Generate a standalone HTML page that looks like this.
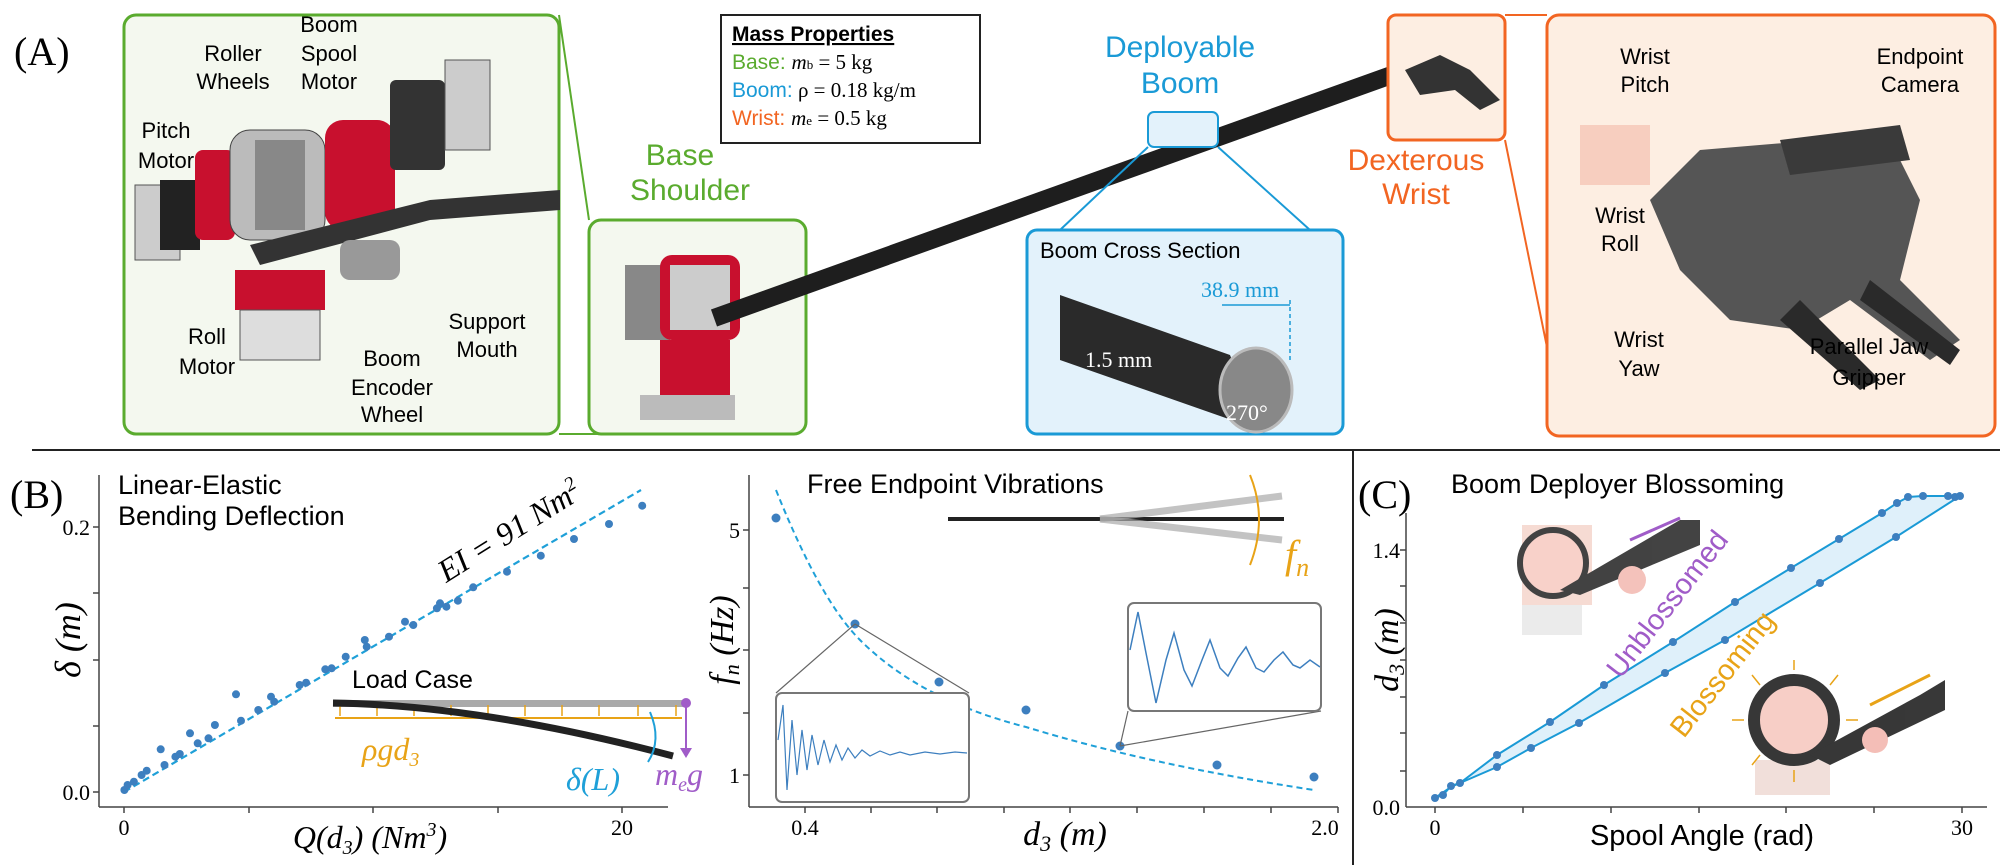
<!DOCTYPE html>
<html><head><meta charset="utf-8"><style>
html,body{margin:0;padding:0;background:#fff;}
svg{display:block;}
.s{font-family:"Liberation Sans",sans-serif;}
.r{font-family:"Liberation Serif",serif;}
</style></head><body>
<svg width="2000" height="865" viewBox="0 0 2000 865" xmlns="http://www.w3.org/2000/svg">
<line x1="32" y1="450" x2="2000" y2="450" stroke="#222" stroke-width="2"/>
<line x1="1353" y1="450" x2="1353" y2="865" stroke="#222" stroke-width="2"/>

<text x="14" y="65" class="r" font-size="40">(A)</text>
<rect x="124" y="15" width="435" height="419" rx="12" fill="#f4f8ef" stroke="#5aab2e" stroke-width="3"/>
<rect x="589" y="220" width="217" height="214" rx="12" fill="#f4f8ef" stroke="#5aab2e" stroke-width="3"/>
<line x1="559" y1="15" x2="589" y2="220" stroke="#5aab2e" stroke-width="2"/>
<line x1="559" y1="434" x2="600" y2="434" stroke="#5aab2e" stroke-width="2"/>
<g>
<rect x="135" y="185" width="45" height="75" fill="#ccc" stroke="#555"/>
<rect x="160" y="180" width="40" height="70" fill="#222"/>
<rect x="195" y="150" width="40" height="90" rx="8" fill="#c8102e"/>
<rect x="230" y="130" width="95" height="110" rx="20" fill="#bbb" stroke="#444"/>
<rect x="255" y="140" width="50" height="90" fill="#888"/>
<rect x="325" y="120" width="70" height="110" rx="18" fill="#c8102e"/>
<rect x="390" y="80" width="55" height="90" rx="6" fill="#333"/>
<rect x="445" y="60" width="45" height="90" fill="#ccc" stroke="#555"/>
<path d="M250 245 L430 200 L560 190 L560 210 L430 220 L260 265Z" fill="#333"/>
<rect x="235" y="270" width="90" height="40" fill="#c8102e"/>
<rect x="240" y="310" width="80" height="50" fill="#ddd" stroke="#555"/>
<rect x="340" y="240" width="60" height="40" rx="10" fill="#999"/>
</g>
<text class="s" font-size="22" text-anchor="middle"><tspan x="233" y="61">Roller</tspan><tspan x="233" y="89">Wheels</tspan></text>
<text class="s" font-size="22" text-anchor="middle"><tspan x="329" y="32">Boom</tspan><tspan x="329" y="61">Spool</tspan><tspan x="329" y="89">Motor</tspan></text>
<text class="s" font-size="22" text-anchor="middle"><tspan x="166" y="138">Pitch</tspan><tspan x="166" y="168">Motor</tspan></text>
<text class="s" font-size="22" text-anchor="middle"><tspan x="487" y="329">Support</tspan><tspan x="487" y="357">Mouth</tspan></text>
<text class="s" font-size="22" text-anchor="middle"><tspan x="207" y="344">Roll</tspan><tspan x="207" y="374">Motor</tspan></text>
<text class="s" font-size="22" text-anchor="middle"><tspan x="392" y="366">Boom</tspan><tspan x="392" y="395">Encoder</tspan><tspan x="392" y="422">Wheel</tspan></text>
<rect x="625" y="265" width="45" height="75" fill="#888"/>
<rect x="660" y="255" width="80" height="85" rx="12" fill="#c8102e"/>
<rect x="670" y="265" width="60" height="65" fill="#ccc"/>
<rect x="660" y="340" width="70" height="55" fill="#c8102e"/>
<rect x="640" y="395" width="95" height="25" fill="#bbb"/>
<text x="680" y="165" class="s" font-size="30" fill="#5aab2e" text-anchor="middle">Base</text>
<text x="690" y="200" class="s" font-size="30" fill="#5aab2e" text-anchor="middle">Shoulder</text>
<line x1="714" y1="318" x2="1400" y2="72" stroke="#1e1e1e" stroke-width="18"/>
<rect x="721" y="15" width="259" height="128" fill="#fff" stroke="#222" stroke-width="2"/>
<text x="732" y="41" class="s" font-size="21" font-weight="bold" text-decoration="underline">Mass Properties</text>
<text x="732" y="69" class="s" font-size="21"><tspan fill="#5aab2e">Base:</tspan> <tspan class="r" font-style="italic">m</tspan><tspan class="r" font-size="13">b</tspan><tspan class="r"> = 5 kg</tspan></text>
<text x="732" y="97" class="s" font-size="21"><tspan fill="#1a9ad6">Boom:</tspan><tspan class="r"> ρ = 0.18 kg/m</tspan></text>
<text x="732" y="125" class="s" font-size="21"><tspan fill="#f26522">Wrist:</tspan> <tspan class="r" font-style="italic">m</tspan><tspan class="r" font-size="13">e</tspan><tspan class="r"> = 0.5 kg</tspan></text>
<text x="1180" y="57" class="s" font-size="30" fill="#1a9ad6" text-anchor="middle">Deployable</text>
<text x="1180" y="93" class="s" font-size="30" fill="#1a9ad6" text-anchor="middle">Boom</text>
<rect x="1148" y="112" width="70" height="35" rx="6" fill="#e3f2fb" stroke="#1a9ad6" stroke-width="2"/>
<line x1="1148" y1="147" x2="1060" y2="230" stroke="#1a9ad6" stroke-width="2"/>
<line x1="1218" y1="147" x2="1310" y2="230" stroke="#1a9ad6" stroke-width="2"/>
<rect x="1027" y="230" width="316" height="204" rx="10" fill="#e3f2fb" stroke="#1a9ad6" stroke-width="3"/>
<text x="1040" y="258" class="s" font-size="22">Boom Cross Section</text>
<path d="M1060 295 L1230 355 L1260 430 L1060 360Z" fill="#2a2a2a"/>
<ellipse cx="1256" cy="390" rx="36" ry="42" fill="#888" stroke="#bbb" stroke-width="3"/>
<text x="1201" y="297" class="r" font-size="22" fill="#1a9ad6">38.9 mm</text>
<line x1="1222" y1="305" x2="1290" y2="305" stroke="#1a9ad6" stroke-width="1.5"/>
<line x1="1290" y1="300" x2="1290" y2="360" stroke="#1a9ad6" stroke-width="1.5" stroke-dasharray="4,3"/>
<text x="1085" y="367" class="r" font-size="22" fill="#fff">1.5 mm</text>
<text x="1226" y="420" class="r" font-size="22" fill="#fff">270°</text>
<rect x="1388" y="15" width="117" height="125" rx="8" fill="#fdeee2" stroke="#f26522" stroke-width="3"/>
<line x1="1505" y1="15" x2="1547" y2="15" stroke="#f26522" stroke-width="2"/>
<line x1="1505" y1="140" x2="1565" y2="436" stroke="#f26522" stroke-width="2"/>
<path d="M1405 70 L1440 55 L1470 70 L1500 100 L1480 110 L1455 90 L1420 95Z" fill="#333"/>
<text x="1416" y="170" class="s" font-size="30" fill="#f26522" text-anchor="middle">Dexterous</text>
<text x="1416" y="204" class="s" font-size="30" fill="#f26522" text-anchor="middle">Wrist</text>
<rect x="1547" y="15" width="448" height="421" rx="12" fill="#fdeee2" stroke="#f26522" stroke-width="3"/>
<rect x="1580" y="125" width="70" height="60" fill="#f3c0b0" opacity="0.7"/>
<path d="M1650 200 L1700 150 L1820 140 L1900 160 L1920 200 L1900 280 L1960 340 L1930 360 L1850 300 L1800 330 L1730 320 L1680 270Z" fill="#555"/>
<path d="M1780 140 L1900 125 L1910 160 L1790 175Z" fill="#3a3a3a"/>
<path d="M1800 300 L1880 380 L1860 390 L1780 320Z" fill="#2a2a2a"/>
<path d="M1870 280 L1960 350 L1950 365 L1860 300Z" fill="#2a2a2a"/>
<text class="s" font-size="22" text-anchor="middle"><tspan x="1645" y="64">Wrist</tspan><tspan x="1645" y="92">Pitch</tspan></text>
<text class="s" font-size="22" text-anchor="middle"><tspan x="1920" y="64">Endpoint</tspan><tspan x="1920" y="92">Camera</tspan></text>
<text class="s" font-size="22" text-anchor="middle"><tspan x="1620" y="223">Wrist</tspan><tspan x="1620" y="251">Roll</tspan></text>
<text class="s" font-size="22" text-anchor="middle"><tspan x="1639" y="347">Wrist</tspan><tspan x="1639" y="376">Yaw</tspan></text>
<text class="s" font-size="22" text-anchor="middle"><tspan x="1869" y="354">Parallel Jaw</tspan><tspan x="1869" y="385">Gripper</tspan></text>

<text x="10" y="508" class="r" font-size="40">(B)</text>
<g stroke="#444" stroke-width="1.5">
<line x1="99" y1="475" x2="99" y2="807"/><line x1="99" y1="807" x2="668" y2="807"/>
<line x1="124" y1="807" x2="124" y2="813"/><line x1="249" y1="807" x2="249" y2="813"/><line x1="373" y1="807" x2="373" y2="813"/><line x1="498" y1="807" x2="498" y2="813"/><line x1="622" y1="807" x2="622" y2="813"/>
<line x1="93" y1="792" x2="99" y2="792"/><line x1="93" y1="726" x2="99" y2="726"/><line x1="93" y1="660" x2="99" y2="660"/><line x1="93" y1="593" x2="99" y2="593"/><line x1="93" y1="527" x2="99" y2="527"/>
</g>
<text x="90" y="800" class="r" font-size="22" text-anchor="end">0.0</text>
<text x="90" y="535" class="r" font-size="22" text-anchor="end">0.2</text>
<text x="124" y="835" class="r" font-size="22" text-anchor="middle">0</text>
<text x="622" y="835" class="r" font-size="22" text-anchor="middle">20</text>
<text x="118" y="494" class="s" font-size="27">Linear-Elastic</text>
<text x="118" y="525" class="s" font-size="27">Bending Deflection</text>
<text transform="translate(80,640) rotate(-90)" class="r" font-size="36" font-style="italic" text-anchor="middle">δ (m)</text>
<text x="370" y="848" class="r" font-size="32" font-style="italic" text-anchor="middle">Q(d<tspan font-size="20" dy="6">3</tspan><tspan dy="-6">)  (Nm</tspan><tspan font-size="20" dy="-12">3</tspan><tspan dy="12">)</tspan></text>
<line x1="124" y1="792" x2="641" y2="490" stroke="#1fa0d8" stroke-width="2.2" stroke-dasharray="7,4"/>
<text transform="translate(515,540) rotate(-32)" class="r" font-size="32" font-style="italic" text-anchor="middle">EI = 91 Nm<tspan font-size="20" dy="-12">2</tspan></text>
<g fill="#3d7fbf">
<circle cx="124.4" cy="790" r="4"/><circle cx="127.6" cy="785" r="4"/><circle cx="133.9" cy="781.7" r="4"/><circle cx="141.6" cy="775" r="4"/><circle cx="146.7" cy="770.7" r="4"/><circle cx="160.7" cy="749.3" r="4"/><circle cx="164.5" cy="765" r="4"/><circle cx="175.4" cy="756.7" r="4"/><circle cx="179.8" cy="754" r="4"/><circle cx="190" cy="733.3" r="4"/><circle cx="197.7" cy="743.3" r="4"/><circle cx="208.5" cy="738.3" r="4"/><circle cx="214.9" cy="725" r="4"/><circle cx="236" cy="694.3" r="4"/><circle cx="241" cy="720.7" r="4"/><circle cx="258.3" cy="710" r="4"/><circle cx="271" cy="696.7" r="4"/><circle cx="274.2" cy="701.7" r="4"/><circle cx="299.7" cy="685" r="4"/><circle cx="306.1" cy="682.7" r="4"/><circle cx="325.3" cy="669.3" r="4"/><circle cx="331.6" cy="668.3" r="4"/><circle cx="345.7" cy="656.7" r="4"/><circle cx="364.8" cy="640" r="4"/><circle cx="366.7" cy="646.7" r="4"/><circle cx="389" cy="636.7" r="4"/><circle cx="405" cy="621.7" r="4"/><circle cx="413.3" cy="625" r="4"/><circle cx="436.9" cy="608.3" r="4"/><circle cx="440" cy="603.3" r="4"/><circle cx="446.4" cy="606.7" r="4"/><circle cx="457.9" cy="600.7" r="4"/><circle cx="473.2" cy="587.3" r="4"/><circle cx="507" cy="571.7" r="4"/><circle cx="540.8" cy="555.7" r="4"/><circle cx="574" cy="539" r="4"/><circle cx="609" cy="524" r="4"/><circle cx="642.2" cy="505.7" r="4"/>
</g>
<text x="352" y="688" class="s" font-size="25">Load Case</text>
<rect x="333" y="700" width="353" height="7" fill="#aaa"/>
<line x1="335" y1="718" x2="682" y2="718" stroke="#e8a317" stroke-width="2"/>
<g stroke="#e8a317" stroke-width="1.5"><line x1="340" y1="705" x2="340" y2="716"/><line x1="377" y1="705" x2="377" y2="716"/><line x1="414" y1="705" x2="414" y2="716"/><line x1="451" y1="705" x2="451" y2="716"/><line x1="488" y1="705" x2="488" y2="716"/><line x1="525" y1="705" x2="525" y2="716"/><line x1="562" y1="705" x2="562" y2="716"/><line x1="599" y1="705" x2="599" y2="716"/><line x1="638" y1="705" x2="638" y2="716"/><line x1="676" y1="705" x2="676" y2="716"/></g>
<path d="M333 703 Q480 705 673 756" stroke="#222" stroke-width="7" fill="none"/>
<circle cx="686" cy="703" r="5" fill="#a05cc8"/>
<line x1="686" y1="703" x2="686" y2="752" stroke="#a05cc8" stroke-width="2"/>
<path d="M680 748 L686 758 L692 748Z" fill="#a05cc8"/>
<path d="M650 712 Q662 740 648 762" stroke="#1fa0d8" stroke-width="2" fill="none"/>
<text x="362" y="760" class="r" font-size="32" font-style="italic" fill="#e8a317">ρgd<tspan font-size="20" dy="6">3</tspan></text>
<text x="566" y="790" class="r" font-size="32" font-style="italic" fill="#1fa0d8">δ(L)</text>
<text x="655" y="785" class="r" font-size="32" font-style="italic" fill="#a05cc8">m<tspan font-size="20" dy="6">e</tspan><tspan dy="-6">g</tspan></text>

<g stroke="#444" stroke-width="1.5">
<line x1="749" y1="475" x2="749" y2="807"/><line x1="749" y1="807" x2="1338" y2="807"/>
<line x1="805" y1="807" x2="805" y2="813"/><line x1="871" y1="807" x2="871" y2="813"/><line x1="937" y1="807" x2="937" y2="813"/><line x1="1004" y1="807" x2="1004" y2="813"/><line x1="1070" y1="807" x2="1070" y2="813"/><line x1="1137" y1="807" x2="1137" y2="813"/><line x1="1204" y1="807" x2="1204" y2="813"/><line x1="1271" y1="807" x2="1271" y2="813"/><line x1="1338" y1="807" x2="1338" y2="813"/>
<line x1="743" y1="530" x2="749" y2="530"/><line x1="743" y1="588" x2="749" y2="588"/><line x1="743" y1="650" x2="749" y2="650"/><line x1="743" y1="713" x2="749" y2="713"/><line x1="743" y1="775" x2="749" y2="775"/>
</g>
<text x="740" y="538" class="r" font-size="22" text-anchor="end">5</text>
<text x="740" y="783" class="r" font-size="22" text-anchor="end">1</text>
<text x="805" y="835" class="r" font-size="22" text-anchor="middle">0.4</text>
<text x="1325" y="835" class="r" font-size="22" text-anchor="middle">2.0</text>
<text x="807" y="493" class="s" font-size="27">Free Endpoint Vibrations</text>
<text transform="translate(733,640) rotate(-90)" class="r" font-size="34" font-style="italic" text-anchor="middle">f<tspan font-size="22" dy="6">n</tspan><tspan dy="-6"> (Hz)</tspan></text>
<text x="1065" y="845" class="r" font-size="34" font-style="italic" text-anchor="middle">d<tspan font-size="22" dy="6">3</tspan><tspan dy="-6"> (m)</tspan></text>
<path d="M776 490 Q820 600 860 640 Q920 700 1026 727 Q1150 765 1314 790" stroke="#1fa0d8" stroke-width="2" fill="none" stroke-dasharray="6,4"/>
<g fill="#3d7fbf"><circle cx="776" cy="518" r="4.5"/><circle cx="855" cy="624" r="4.5"/><circle cx="939" cy="682" r="4.5"/><circle cx="1026" cy="710" r="4.5"/><circle cx="1120" cy="746" r="4.5"/><circle cx="1217" cy="765" r="4.5"/><circle cx="1314" cy="777" r="4.5"/></g>
<line x1="776" y1="693" x2="855" y2="624" stroke="#666" stroke-width="1.2"/>
<line x1="969" y1="693" x2="855" y2="624" stroke="#666" stroke-width="1.2"/>
<rect x="776" y="693" width="193" height="109" rx="6" fill="#fff" stroke="#777" stroke-width="2"/>
<path d="M778 740 L783 705 L787 790 L792 720 L797 775 L802 730 L807 770 L812 735 L818 765 L824 740 L830 762 L836 745 L842 760 L848 748 L855 758 L862 750 L870 756 L880 751 L890 755 L900 752 L910 755 L925 752 L940 754 L955 752 L967 753" stroke="#3d7fbf" stroke-width="1.2" fill="none"/>
<line x1="1128" y1="711" x2="1120" y2="746" stroke="#666" stroke-width="1.2"/>
<line x1="1321" y1="711" x2="1120" y2="746" stroke="#666" stroke-width="1.2"/>
<rect x="1128" y="603" width="193" height="108" rx="6" fill="#fff" stroke="#777" stroke-width="2"/>
<path d="M1130 650 L1138 612 L1146 653 L1156 703 L1166 660 L1174 633 L1184 670 L1192 686 L1202 660 L1210 640 L1220 668 L1228 676 L1238 658 L1246 647 L1256 668 L1264 672 L1274 660 L1283 652 L1293 665 L1300 668 L1310 660 L1320 667" stroke="#3d7fbf" stroke-width="1.5" fill="none"/>
<line x1="948" y1="519" x2="1284" y2="519" stroke="#222" stroke-width="4"/>
<path d="M1100 519 L1282 496" stroke="#aaa" stroke-width="7" opacity="0.7"/>
<path d="M1100 519 L1282 540" stroke="#aaa" stroke-width="7" opacity="0.7"/>
<path d="M1250 475 Q1268 519 1250 565" stroke="#e8a317" stroke-width="2" fill="none"/>
<text x="1285" y="568" class="r" font-size="40" font-style="italic" fill="#e8a317">f<tspan font-size="26" dy="8">n</tspan></text>

<text x="1358" y="508" class="r" font-size="40">(C)</text>
<g stroke="#444" stroke-width="1.5">
<line x1="1406" y1="513" x2="1406" y2="807"/><line x1="1406" y1="807" x2="1987" y2="807"/>
<line x1="1435" y1="807" x2="1435" y2="813"/><line x1="1523" y1="807" x2="1523" y2="813"/><line x1="1611" y1="807" x2="1611" y2="813"/><line x1="1699" y1="807" x2="1699" y2="813"/><line x1="1786" y1="807" x2="1786" y2="813"/><line x1="1874" y1="807" x2="1874" y2="813"/><line x1="1962" y1="807" x2="1962" y2="813"/>
<line x1="1400" y1="550" x2="1406" y2="550"/><line x1="1400" y1="586" x2="1406" y2="586"/><line x1="1400" y1="623" x2="1406" y2="623"/><line x1="1400" y1="660" x2="1406" y2="660"/><line x1="1400" y1="697" x2="1406" y2="697"/><line x1="1400" y1="733" x2="1406" y2="733"/><line x1="1400" y1="771" x2="1406" y2="771"/>
</g>
<text x="1400" y="815" class="r" font-size="22" text-anchor="end">0.0</text>
<text x="1400" y="558" class="r" font-size="22" text-anchor="end">1.4</text>
<text x="1435" y="835" class="r" font-size="22" text-anchor="middle">0</text>
<text x="1962" y="835" class="r" font-size="22" text-anchor="middle">30</text>
<text x="1451" y="493" class="s" font-size="27">Boom Deployer Blossoming</text>
<text transform="translate(1398,650) rotate(-90)" class="r" font-size="34" font-style="italic" text-anchor="middle">d<tspan font-size="22" dy="6">3</tspan><tspan dy="-6"> (m)</tspan></text>
<text x="1702" y="845" class="s" font-size="29" text-anchor="middle">Spool Angle (rad)</text>
<path d="M1435 798 L1443 795 L1451 786 L1460 783 L1497 755 L1550 722 L1604 685 L1673 642 L1735 602 L1791 568 L1839 539 L1882 513 L1897 503 L1908 497 L1923 496 L1948 496 L1960 496 L1896 537 L1820 583 L1725 640 L1665 673 L1579 723 L1531 748 L1497 767 L1460 783 L1451 787Z" fill="#dff0fa" stroke="#1a9ad6" stroke-width="2"/>
<g fill="#3d7fbf">
<circle cx="1435" cy="798" r="4"/><circle cx="1443" cy="795" r="4"/><circle cx="1451" cy="786" r="4"/><circle cx="1460" cy="783" r="4"/><circle cx="1497" cy="755" r="4"/><circle cx="1550" cy="722" r="4"/><circle cx="1604" cy="685" r="4"/><circle cx="1673" cy="642" r="4"/><circle cx="1735" cy="602" r="4"/><circle cx="1791" cy="568" r="4"/><circle cx="1839" cy="539" r="4"/><circle cx="1882" cy="513" r="4"/><circle cx="1897" cy="503" r="4"/><circle cx="1908" cy="497" r="4"/><circle cx="1923" cy="496" r="4"/><circle cx="1948" cy="496" r="4"/><circle cx="1955" cy="497" r="4"/><circle cx="1960" cy="496" r="4"/>
<circle cx="1497" cy="767" r="4"/><circle cx="1531" cy="748" r="4"/><circle cx="1579" cy="723" r="4"/><circle cx="1665" cy="673" r="4"/><circle cx="1725" cy="640" r="4"/><circle cx="1820" cy="583" r="4"/><circle cx="1896" cy="537" r="4"/>
</g>
<g opacity="0.85">
<rect x="1522" y="525" width="70" height="80" fill="#f5d5cc"/>
<rect x="1522" y="605" width="60" height="30" fill="#e8e8e8"/>
<circle cx="1553" cy="563" r="33" fill="#f7c9c0" stroke="#222" stroke-width="6"/>
<path d="M1560 590 L1680 520 L1700 520 L1700 545 L1580 595Z" fill="#222"/>
<circle cx="1632" cy="580" r="14" fill="#f3b8b0"/>
</g>
<line x1="1630" y1="540" x2="1680" y2="518" stroke="#a05cc8" stroke-width="3"/>
<g opacity="0.9">
<rect x="1755" y="760" width="75" height="35" fill="#f0dcd6"/>
<circle cx="1794" cy="720" r="40" fill="#f7c9c0" stroke="#222" stroke-width="12"/>
<path d="M1810 755 L1920 695 L1945 680 L1945 710 L1830 765Z" fill="#222"/>
<circle cx="1875" cy="740" r="13" fill="#f3b8b0"/>
</g>
<line x1="1870" y1="705" x2="1930" y2="675" stroke="#e8a317" stroke-width="3"/>
<g stroke="#e8a317" stroke-width="1.5"><line x1="1794" y1="670" x2="1794" y2="660"/><line x1="1794" y1="770" x2="1794" y2="782"/><line x1="1744" y1="720" x2="1732" y2="720"/><line x1="1846" y1="720" x2="1858" y2="720"/><line x1="1760" y1="685" x2="1752" y2="675"/><line x1="1830" y1="685" x2="1838" y2="675"/><line x1="1760" y1="755" x2="1752" y2="765"/></g>
<text transform="translate(1675,610) rotate(-52)" class="s" font-size="29" fill="#a05cc8" text-anchor="middle">Unblossomed</text>
<text transform="translate(1730,680) rotate(-52)" class="s" font-size="29" fill="#e8a317" text-anchor="middle">Blossoming</text>
</svg>
</body></html>
